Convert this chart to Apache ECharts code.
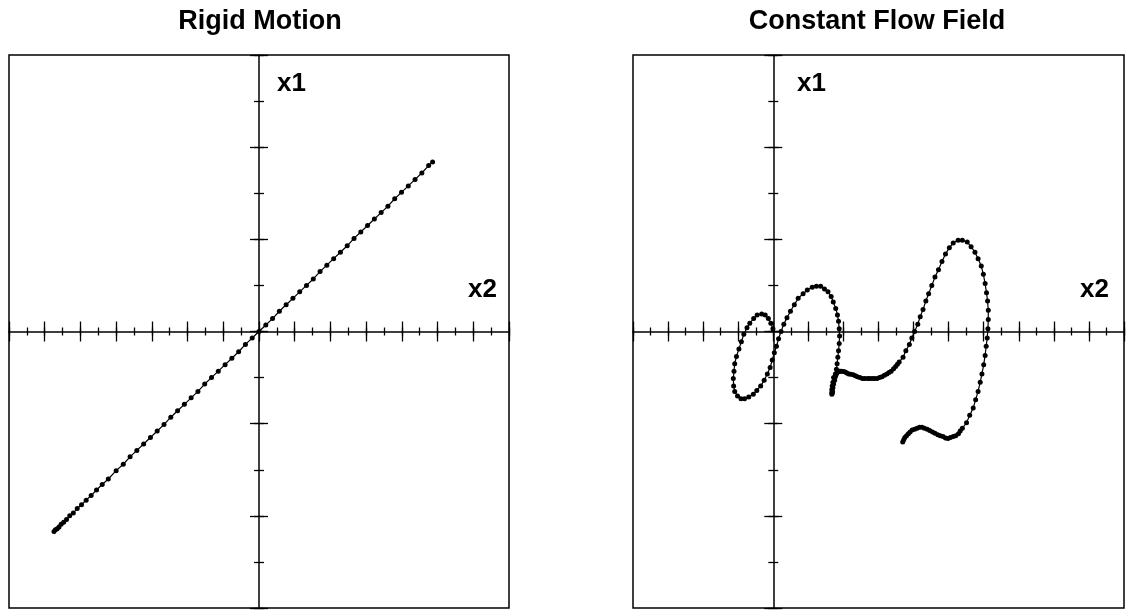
<!DOCTYPE html>
<html lang="en">
<head>
    <meta charset="UTF-8">
    <title>Rigid Motion / Constant Flow Field</title>
    <script src="https://cdn.jsdelivr.net/npm/echarts@6.0.0/dist/echarts.min.js"></script>
    <style>
        html, body { margin: 0; padding: 0; background: #fff; }
        #chart { width: 1135px; height: 610px; }
    </style>
</head>
<body>
<div id="chart"></div>
<script>
    // panel titles and axis names
    var titles = ['Rigid Motion', 'Constant Flow Field'];
    var axisNames = ['x1', 'x2'];

    // axis ranges (x2 horizontal, x1 vertical)
    var rigidRangeX2 = [-7, 7];
    var flowRangeX2 = [-4, 10];
    var rangeX1 = [-3, 3];

    // Rigid Motion trajectory
    var rigidX2 = [-5.74, -5.70, -5.65, -5.60, -5.54, -5.47, -5.39, -5.30, -5.20, -5.09, -4.97, -4.84,
        -4.70, -4.55, -4.39, -4.22, -4.00, -3.80, -3.61, -3.42, -3.23, -3.04, -2.85, -2.66, -2.47,
        -2.28, -2.09, -1.90, -1.71, -1.52, -1.33, -1.14, -0.95, -0.76, -0.57, -0.38, -0.19, 0,
        0.19, 0.38, 0.57, 0.76, 0.95, 1.14, 1.33, 1.52, 1.71, 1.90, 2.09, 2.28, 2.47, 2.66, 2.85,
        3.04, 3.23, 3.42, 3.61, 3.80, 3.99, 4.18, 4.37, 4.56, 4.75, 4.86];
    var rigidX1 = [-2.17, -2.15, -2.14, -2.12, -2.09, -2.07, -2.04, -2.00, -1.97, -1.92, -1.88, -1.83,
        -1.78, -1.72, -1.66, -1.60, -1.51, -1.44, -1.36, -1.29, -1.22, -1.15, -1.08, -1.01, -0.93,
        -0.86, -0.79, -0.72, -0.65, -0.57, -0.50, -0.43, -0.36, -0.29, -0.22, -0.14, -0.07, 0,
        0.07, 0.14, 0.22, 0.29, 0.36, 0.43, 0.50, 0.57, 0.65, 0.72, 0.79, 0.86, 0.93, 1.01, 1.08,
        1.15, 1.22, 1.29, 1.36, 1.44, 1.51, 1.58, 1.65, 1.72, 1.80, 1.84];

    // Constant Flow Field trajectory
    var flowX2 = [-0.01, -0.07, -0.14, -0.23, -0.33, -0.46, -0.56, -0.67, -0.75, -0.84, -0.91, -0.98,
        -1.05, -1.10, -1.12, -1.14, -1.13, -1.10, -1.02, -0.92, -0.82, -0.70, -0.57, -0.47, -0.36,
        -0.26, -0.17, -0.09, -0.03, 0.03, 0.09, 0.15, 0.22, 0.30, 0.39, 0.49, 0.60, 0.71, 0.85,
        0.97, 1.11, 1.23, 1.35, 1.46, 1.56, 1.65, 1.71, 1.78, 1.83, 1.86, 1.88, 1.89, 1.88, 1.86,
        1.84, 1.82, 1.80, 1.77, 1.72, 1.70, 1.68, 1.67, 1.67, 1.67, 1.68, 1.69, 1.70, 1.72, 1.75,
        1.77, 1.79, 1.81, 1.84, 1.87, 1.90, 1.94, 2.00, 2.05, 2.10, 2.15, 2.21, 2.28, 2.34, 2.40,
        2.47, 2.54, 2.61, 2.69, 2.75, 2.82, 2.89, 2.96, 3.03, 3.10, 3.17, 3.24, 3.30, 3.36, 3.43,
        3.49, 3.54, 3.59,
        3.70, 3.78, 3.88, 3.95, 4.03, 4.12, 4.19, 4.27, 4.35, 4.43, 4.52, 4.61, 4.71,
        4.81, 4.91, 5.02, 5.13, 5.27, 5.39, 5.53, 5.64, 5.75, 5.84, 5.93, 5.99, 6.04, 6.08, 6.11,
        6.13, 6.13, 6.12, 6.10, 6.07, 6.04, 6.00, 5.95, 5.90, 5.84, 5.77, 5.70, 5.60, 5.51,
        5.39, 5.33, 5.28, 5.20, 5.13, 5.05, 4.98, 4.91, 4.84, 4.76, 4.69, 4.61, 4.54, 4.46, 4.39,
        4.31, 4.24, 4.17, 4.10, 4.03, 3.96, 3.90, 3.85, 3.80, 3.75, 3.72, 3.69];
    var flowX1 = [0.03, 0.09, 0.14, 0.18, 0.19, 0.18, 0.14, 0.09, 0.04, -0.03, -0.11, -0.19,
        -0.27, -0.35, -0.43, -0.51, -0.59, -0.65, -0.70, -0.73, -0.73, -0.71, -0.68, -0.64, -0.59,
        -0.53, -0.46, -0.39, -0.31, -0.23, -0.16, -0.08, 0.00, 0.08, 0.15, 0.22, 0.29, 0.36, 0.41,
        0.45, 0.48, 0.49, 0.49, 0.46, 0.43, 0.38, 0.32, 0.25, 0.18, 0.11, 0.03, -0.05, -0.13, -0.21,
        -0.28, -0.35, -0.41, -0.46, -0.50, -0.55, -0.59, -0.63, -0.66, -0.68, -0.67, -0.65, -0.61, -0.57, -0.53,
        -0.49, -0.47, -0.45, -0.44, -0.43, -0.43, -0.43, -0.435, -0.44, -0.45, -0.46, -0.465, -0.47, -0.48, -0.49,
        -0.50, -0.51, -0.51, -0.51, -0.51, -0.51, -0.51, -0.51, -0.50, -0.49, -0.475, -0.46, -0.445, -0.43, -0.405,
        -0.38, -0.355, -0.33,
        -0.28, -0.21, -0.14, -0.07, 0.00, 0.08, 0.16, 0.24, 0.33, 0.41, 0.50, 0.59, 0.67,
        0.76, 0.84, 0.91, 0.96, 0.99, 0.99, 0.97, 0.92, 0.86, 0.79, 0.71, 0.62, 0.52, 0.42, 0.33,
        0.23, 0.13, 0.03, -0.07, -0.16, -0.26, -0.36, -0.46, -0.55, -0.65, -0.74, -0.83, -0.91, -0.99,
        -1.05, -1.08, -1.11, -1.13, -1.14, -1.15, -1.16, -1.155, -1.14, -1.13, -1.12, -1.105, -1.09, -1.075, -1.06,
        -1.05, -1.04, -1.04, -1.05, -1.06, -1.07, -1.09, -1.11, -1.13, -1.15, -1.175, -1.20];

    function pairs(xs, ys) {
        var out = [];
        for (var i = 0; i < xs.length; i++) {
            out.push([xs[i], ys[i]]);
        }
        return out;
    }

    var FONT = '"Liberation Sans", Arial, Helvetica, sans-serif';

    // panel boxes in px
    var TOP = 55, HEIGHT = 553;
    var panels = [
        {left: 9, width: 500, range: rigidRangeX2},
        {left: 633, width: 491, range: flowRangeX2}
    ];

    // crossing tick marks: split lines of a thin strip centred on the zero line
    var tickStrips = [
        {dim: 'x', size: 20, interval: 1},
        {dim: 'x', size: 8, interval: 0.5},
        {dim: 'y', size: 18, interval: 1},
        {dim: 'y', size: 10, interval: 0.5}
    ];

    function hiddenAxis(grid, range) {
        return {type: 'value', gridIndex: grid, show: false, min: range[0], max: range[1],
            axisLine: {onZero: false}, splitLine: {show: false}};
    }

    function lineAxis(grid, pos, range) {
        return {type: 'value', gridIndex: grid, position: pos, min: range[0], max: range[1],
            axisLine: {show: true, onZero: false, lineStyle: {color: '#000', width: 1.5}},
            axisTick: {show: false}, axisLabel: {show: false}, splitLine: {show: false}};
    }

    function stripAxis(grid, range, interval) {
        return {type: 'value', gridIndex: grid, min: range[0], max: range[1], interval: interval,
            axisLine: {show: false, onZero: false}, axisTick: {show: false}, axisLabel: {show: false},
            splitLine: {show: true, showMinLine: true, showMaxLine: true,
                lineStyle: {color: '#000', width: 1.3, type: 'solid'}}};
    }

    var grids = [], xAxes = [], yAxes = [], mainIndex = [];
    panels.forEach(function (p) {
        var zeroY = TOP + HEIGHT / 2;
        var zeroW = p.width * (-p.range[0] / (p.range[1] - p.range[0]));
        var zeroX = p.left + zeroW;
        // main box with the trajectory
        mainIndex.push(grids.length);
        grids.push({left: p.left, top: TOP, width: p.width, height: HEIGHT, show: true,
            borderColor: '#000', borderWidth: 1.5, backgroundColor: 'transparent', outerBoundsMode: 'none'});
        xAxes.push(hiddenAxis(grids.length - 1, p.range));
        yAxes.push(hiddenAxis(grids.length - 1, rangeX1));
        // x2 axis line along x1 = 0
        grids.push({left: p.left, top: TOP, width: p.width, height: HEIGHT / 2, outerBoundsMode: 'none'});
        xAxes.push(lineAxis(grids.length - 1, 'bottom', p.range));
        yAxes.push(hiddenAxis(grids.length - 1, [0, 1]));
        // x1 axis line along x2 = 0
        grids.push({left: p.left, top: TOP, width: zeroW, height: HEIGHT, outerBoundsMode: 'none'});
        xAxes.push(hiddenAxis(grids.length - 1, [0, 1]));
        yAxes.push(lineAxis(grids.length - 1, 'right', rangeX1));
        tickStrips.forEach(function (s) {
            if (s.dim === 'x') {
                grids.push({left: p.left, top: zeroY - s.size / 2, width: p.width, height: s.size,
                    outerBoundsMode: 'none'});
                xAxes.push(stripAxis(grids.length - 1, p.range, s.interval));
                yAxes.push(hiddenAxis(grids.length - 1, [0, 1]));
            } else {
                grids.push({left: zeroX - s.size / 2, top: TOP, width: s.size, height: HEIGHT,
                    outerBoundsMode: 'none'});
                xAxes.push(hiddenAxis(grids.length - 1, [0, 1]));
                yAxes.push(stripAxis(grids.length - 1, rangeX1, s.interval));
            }
        });
    });

    function label(text, x, y, size, align) {
        return {
            type: 'text', x: x, y: y, silent: true,
            style: {
                text: text, fill: '#000', fontSize: size, fontWeight: 'bold', fontFamily: FONT,
                align: align, verticalAlign: 'middle',
                textAlign: align, textVerticalAlign: 'middle'
            }
        };
    }

    var seriesStyle = {
        type: 'line', smooth: false, symbol: 'circle', symbolSize: 5,
        lineStyle: {color: '#000', width: 1.2},
        itemStyle: {color: '#000'},
        animation: false, silent: true, z: 5
    };

    var chart = echarts.init(document.getElementById('chart'), null, {renderer: 'canvas'});
    chart.setOption({
        backgroundColor: '#fff',
        animation: false,
        grid: grids,
        xAxis: xAxes,
        yAxis: yAxes,
        graphic: [
            label(titles[0], 260, 22, 27, 'center'),
            label(titles[1], 877, 22, 27, 'center'),
            label(axisNames[0], 277, 84, 26, 'left'),
            label(axisNames[1], 497, 290, 26, 'right'),
            label(axisNames[0], 797, 84, 26, 'left'),
            label(axisNames[1], 1109, 290, 26, 'right')
        ],
        series: [
            Object.assign({name: titles[0], xAxisIndex: mainIndex[0], yAxisIndex: mainIndex[0],
                data: pairs(rigidX2, rigidX1)}, seriesStyle),
            Object.assign({name: titles[1], xAxisIndex: mainIndex[1], yAxisIndex: mainIndex[1],
                data: pairs(flowX2, flowX1)}, seriesStyle)
        ]
    });
</script>
</body>
</html>
